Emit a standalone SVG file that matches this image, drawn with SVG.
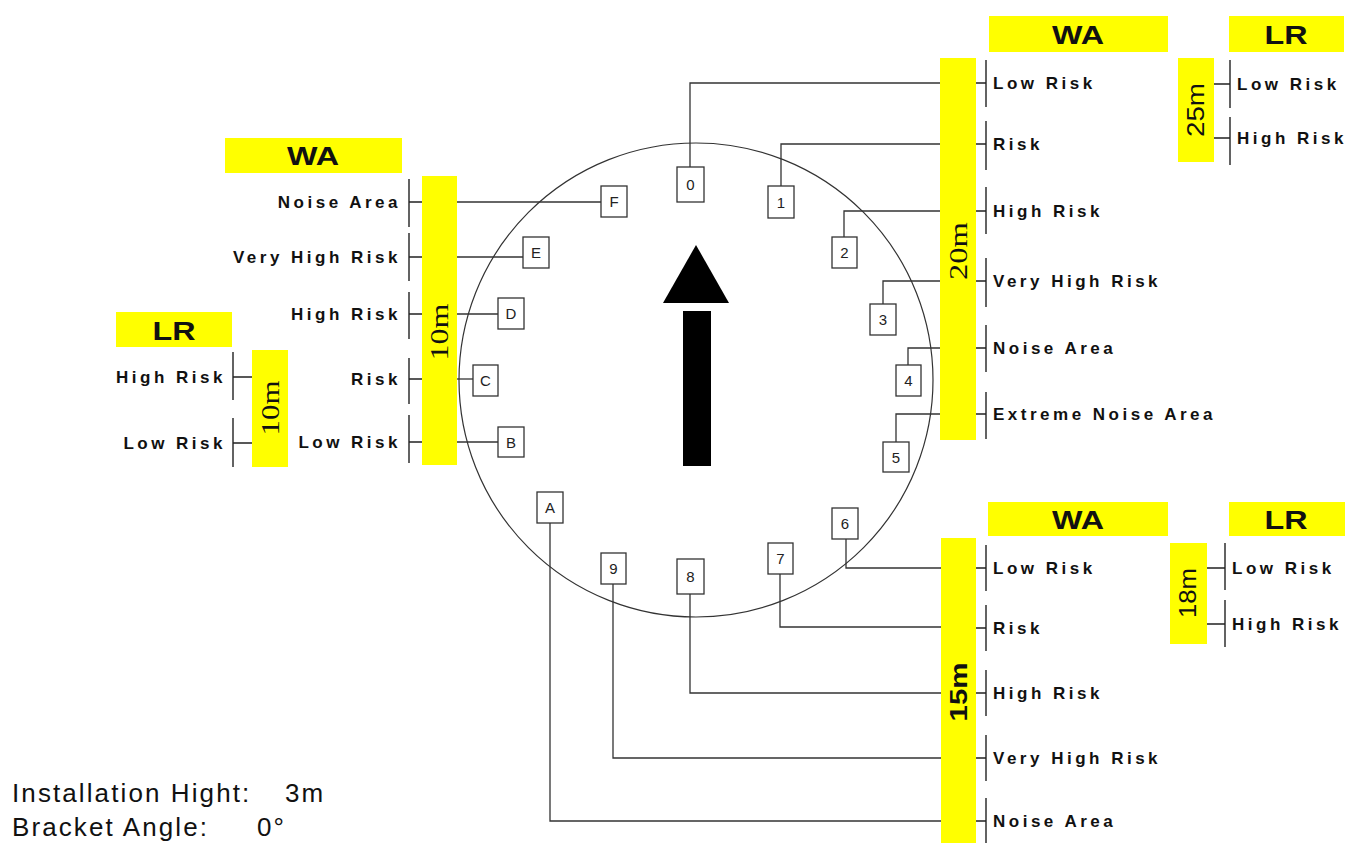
<svg xmlns="http://www.w3.org/2000/svg" width="1348" height="843" viewBox="0 0 1348 843">
<style>
.ln{stroke:#333;stroke-width:1.3;fill:none}
.tk{stroke:#222;stroke-width:1.4;fill:none}
.bx{fill:#fff;stroke:#333;stroke-width:1.3}
.yl{fill:#ffff00}
.lbl{font-family:"Liberation Sans",Arial,sans-serif;font-weight:bold;font-size:17px;letter-spacing:3.5px;fill:#111}
.end{text-anchor:end}
.num{font-family:"Liberation Sans",Arial,sans-serif;font-size:15px;fill:#222;text-anchor:middle}
.hdr{font-family:"Liberation Sans",Arial,sans-serif;font-weight:bold;font-size:26px;fill:#111;text-anchor:middle}
.ser{font-family:"Liberation Serif","Times New Roman",serif;font-size:25px;fill:#111;text-anchor:middle}
.san{font-family:"Liberation Sans",Arial,sans-serif;font-size:23px;fill:#111;text-anchor:middle}
.info{font-family:"Liberation Sans",Arial,sans-serif;font-size:26px;fill:#111;letter-spacing:2.1px}
</style>
<rect width="1348" height="843" fill="#fff"/>

<g id="compass">
<circle cx="696" cy="380" r="237" fill="none" stroke="#333" stroke-width="1.2"/>
<polygon points="696,245 729,303 663,303" fill="#000"/>
<rect x="683" y="311" width="28" height="155" fill="#000"/>
</g>

<g id="connectors">
<path class="ln" d="M690,167 V83 H940"/>
<path class="ln" d="M781,186 V144 H940"/>
<path class="ln" d="M844,237 V211 H940"/>
<path class="ln" d="M883,304 V281 H940"/>
<path class="ln" d="M908,365 V348 H940"/>
<path class="ln" d="M896,442 V414 H940"/>
<path class="ln" d="M457,202 H601"/>
<path class="ln" d="M457,257 H523"/>
<path class="ln" d="M457,314 H498"/>
<path class="ln" d="M457,379 H473"/>
<path class="ln" d="M457,442 H498"/>
<path class="ln" d="M550,523 V821 H941"/>
<path class="ln" d="M613,584 V758 H941"/>
<path class="ln" d="M690,594 V693 H941"/>
<path class="ln" d="M780,574 V627 H941"/>
<path class="ln" d="M846,539 V568 H941"/>
</g>

<g id="sensor-0"><rect class="bx" x="677" y="167" width="27" height="35"/><text class="num" x="690.5" y="190">0</text></g>
<g id="sensor-1"><rect class="bx" x="768" y="186" width="26" height="32"/><text class="num" x="781" y="208">1</text></g>
<g id="sensor-2"><rect class="bx" x="832" y="237" width="25" height="31"/><text class="num" x="844.5" y="258">2</text></g>
<g id="sensor-3"><rect class="bx" x="870" y="304" width="26" height="31"/><text class="num" x="883" y="325">3</text></g>
<g id="sensor-4"><rect class="bx" x="896" y="365" width="25" height="31"/><text class="num" x="908.5" y="386">4</text></g>
<g id="sensor-5"><rect class="bx" x="883" y="442" width="26" height="30"/><text class="num" x="896" y="463">5</text></g>
<g id="sensor-6"><rect class="bx" x="832" y="508" width="26" height="31"/><text class="num" x="845" y="529">6</text></g>
<g id="sensor-7"><rect class="bx" x="768" y="543" width="25" height="31"/><text class="num" x="780.5" y="564">7</text></g>
<g id="sensor-8"><rect class="bx" x="677" y="559" width="27" height="35"/><text class="num" x="690.5" y="582">8</text></g>
<g id="sensor-9"><rect class="bx" x="601" y="553" width="25" height="31"/><text class="num" x="613.5" y="574">9</text></g>
<g id="sensor-A"><rect class="bx" x="537" y="492" width="26" height="31"/><text class="num" x="550" y="513">A</text></g>
<g id="sensor-B"><rect class="bx" x="498" y="427" width="26" height="30"/><text class="num" x="511" y="448">B</text></g>
<g id="sensor-C"><rect class="bx" x="473" y="365" width="25" height="31"/><text class="num" x="485.5" y="386">C</text></g>
<g id="sensor-D"><rect class="bx" x="498" y="298" width="26" height="31"/><text class="num" x="511" y="319">D</text></g>
<g id="sensor-E"><rect class="bx" x="523" y="237" width="26" height="31"/><text class="num" x="536" y="258">E</text></g>
<g id="sensor-F"><rect class="bx" x="601" y="186" width="26" height="31"/><text class="num" x="614" y="207">F</text></g>

<g id="wa-top">
<rect class="yl" x="989" y="16" width="179" height="36"/>
<text class="hdr" x="1078" y="44" textLength="52" lengthAdjust="spacingAndGlyphs">WA</text>
<rect class="yl" x="940" y="58" width="36" height="382"/>
<text class="ser" transform="translate(967,251) rotate(-90)" textLength="58" lengthAdjust="spacingAndGlyphs">20m</text>
<path class="tk" d="M986,60V107 M976,83H986 M986,121V170 M976,144H986 M986,187V234 M976,211H986 M986,258V307 M976,281H986 M986,325V372 M976,348H986 M986,392V439 M976,414H986"/>
<text class="lbl" x="993" y="89">Low Risk</text>
<text class="lbl" x="993" y="150">Risk</text>
<text class="lbl" x="993" y="217">High Risk</text>
<text class="lbl" x="993" y="287">Very High Risk</text>
<text class="lbl" x="993" y="354">Noise Area</text>
<text class="lbl" x="993" y="420">Extreme Noise Area</text>
</g>

<g id="lr-top">
<rect class="yl" x="1229" y="16" width="115" height="36"/>
<text class="hdr" x="1286" y="44" textLength="43" lengthAdjust="spacingAndGlyphs">LR</text>
<rect class="yl" x="1178" y="58" width="36" height="104"/>
<text class="san" transform="translate(1204,110) rotate(-90)" textLength="54" lengthAdjust="spacingAndGlyphs">25m</text>
<path class="tk" d="M1230,60V108 M1214,84H1230 M1230,117V165 M1214,138H1230"/>
<text class="lbl" x="1237" y="90">Low Risk</text>
<text class="lbl" x="1237" y="144">High Risk</text>
</g>

<g id="wa-left">
<rect class="yl" x="225" y="138" width="177" height="35"/>
<text class="hdr" x="313" y="165" textLength="52" lengthAdjust="spacingAndGlyphs">WA</text>
<rect class="yl" x="422" y="176" width="35" height="289"/>
<text class="ser" transform="translate(448,332) rotate(-90)" textLength="57" lengthAdjust="spacingAndGlyphs">10m</text>
<path class="tk" d="M409,179V227 M409,202H422 M409,233V281 M409,257H422 M409,292V339 M409,314H422 M409,358V404 M409,379H422 M409,415V463 M409,442H422"/>
<text class="lbl end" x="401" y="208">Noise Area</text>
<text class="lbl end" x="401" y="263">Very High Risk</text>
<text class="lbl end" x="401" y="320">High Risk</text>
<text class="lbl end" x="401" y="385">Risk</text>
<text class="lbl end" x="401" y="448">Low Risk</text>
</g>

<g id="lr-left">
<rect class="yl" x="116" y="312" width="116" height="35"/>
<text class="hdr" x="174" y="340" textLength="43" lengthAdjust="spacingAndGlyphs">LR</text>
<rect class="yl" x="252" y="350" width="36" height="117"/>
<text class="ser" transform="translate(279,408) rotate(-90)" textLength="55" lengthAdjust="spacingAndGlyphs">10m</text>
<path class="tk" d="M233,352V400 M233,377H252 M233,418V467 M233,443H252"/>
<text class="lbl end" x="226" y="383">High Risk</text>
<text class="lbl end" x="226" y="449">Low Risk</text>
</g>

<g id="wa-bottom">
<rect class="yl" x="988" y="502" width="180" height="34"/>
<text class="hdr" x="1078" y="529" textLength="52" lengthAdjust="spacingAndGlyphs">WA</text>
<rect class="yl" x="941" y="538" width="35" height="305"/>
<text class="san" font-weight="bold" transform="translate(967,692) rotate(-90)" textLength="59" lengthAdjust="spacingAndGlyphs">15m</text>
<path class="tk" d="M986,545V591 M976,568H986 M986,605V651 M976,628H986 M986,670V716 M976,693H986 M986,735V781 M976,758H986 M986,798V843 M976,821H986"/>
<text class="lbl" x="993" y="574">Low Risk</text>
<text class="lbl" x="993" y="634">Risk</text>
<text class="lbl" x="993" y="699">High Risk</text>
<text class="lbl" x="993" y="764">Very High Risk</text>
<text class="lbl" x="993" y="827">Noise Area</text>
</g>

<g id="lr-bottom">
<rect class="yl" x="1229" y="502" width="116" height="34"/>
<text class="hdr" x="1286" y="529" textLength="43" lengthAdjust="spacingAndGlyphs">LR</text>
<rect class="yl" x="1170" y="543" width="37" height="101"/>
<text class="san" transform="translate(1196,593) rotate(-90)" textLength="50" lengthAdjust="spacingAndGlyphs">18m</text>
<path class="tk" d="M1225,543V590 M1207,568H1225 M1225,600V647 M1207,624H1225"/>
<text class="lbl" x="1232" y="574">Low Risk</text>
<text class="lbl" x="1232" y="630">High Risk</text>
</g>

<g id="info">
<text class="info" x="12" y="802">Installation Hight:</text>
<text class="info" x="285" y="802">3m</text>
<text class="info" x="12" y="836">Bracket Angle:</text>
<text class="info" x="257" y="836">0°</text>
</g>
</svg>
